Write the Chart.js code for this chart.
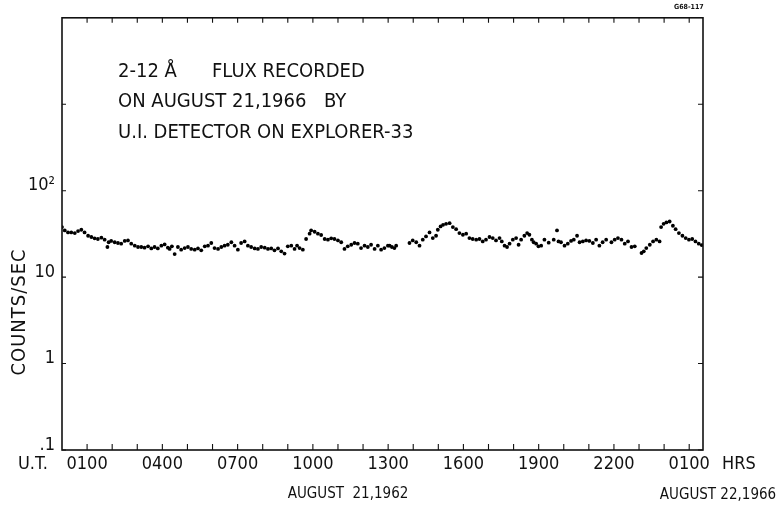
<!DOCTYPE html>
<html><head><meta charset="utf-8">
<script src="https://cdn.jsdelivr.net/npm/chart.js@4"></script>
<style>
html,body{margin:0;padding:0;background:#fff;}
#wrap{position:relative;width:780px;height:508px;overflow:hidden;}
canvas{position:absolute;left:0;top:0;}
.t{position:absolute;font-family:"DejaVu Sans Condensed","DejaVu Sans",sans-serif;font-stretch:condensed;color:#111;white-space:nowrap;line-height:1;}
.a{font-size:20px;}
</style></head><body>
<div id="wrap">
<canvas id="c" width="780" height="508"></canvas>
<div class="t" style="left:674px;top:4px;font-size:7px;font-weight:bold;">G68-117</div>
<div class="t a" style="left:118px;top:60px;">2-12 Å</div>
<div class="t a" style="left:212px;top:60px;">FLUX RECORDED</div>
<div class="t a" style="left:118px;top:90px;">ON AUGUST 21,1966</div>
<div class="t a" style="left:324px;top:90px;">BY</div>
<div class="t a" style="left:118px;top:121px;">U.I. DETECTOR ON EXPLORER-33</div>
<div class="t" style="left:18px;top:312px;font-size:20px;letter-spacing:1px;transform:translate(-50%,-50%) rotate(-90deg);">COUNTS/SEC</div>
<div class="t" style="left:18px;top:454px;font-size:18px;">U.T.</div>
<div class="t" style="left:722px;top:454px;font-size:18px;">HRS</div>
<div class="t" style="left:348px;top:486px;font-size:15px;transform:translateX(-50%);">AUGUST&nbsp;&nbsp;21,1962</div>
<div class="t" style="left:718px;top:487px;font-size:15px;transform:translateX(-50%);">AUGUST 22,1966</div>
</div>
<script>
// Hours after 0000 UT, August 21
const hours = [
0.00,0.11,0.24,0.37,0.51,0.64,0.77,0.90,1.04,1.17,1.30,1.43,1.57,1.70,1.81,1.86,1.96,2.10,2.23,2.36,2.50,2.63,2.76,2.90,3.03,3.16,3.29,3.43,3.56,3.69,3.82,3.96,4.09,4.22,
4.29,4.38,4.49,4.62,4.75,4.89,5.02,5.15,5.29,5.42,5.55,5.69,5.82,5.95,6.08,6.22,6.35,6.48,6.61,6.75,6.88,7.01,7.14,7.28,7.41,7.54,7.68,7.81,7.94,8.08,8.21,8.34,8.47,8.61,
8.74,8.87,9.00,9.14,9.27,9.37,9.47,9.60,9.73,9.87,9.93,10.07,10.20,10.33,10.47,10.60,10.73,10.86,11.00,11.13,11.26,11.39,11.53,11.66,11.79,11.92,12.06,12.19,12.32,12.46,12.59,12.72,12.85,12.99,
13.06,13.15,13.25,13.32,
13.85,13.98,14.12,14.25,14.38,14.51,14.65,14.78,14.91,14.98,15.09,15.19,15.31,15.45,15.58,15.71,15.84,15.98,16.11,16.24,16.37,16.51,16.64,16.77,16.90,17.04,17.17,17.30,
17.44,17.53,17.64,17.74,17.84,17.97,18.10,18.20,18.30,18.43,18.54,18.63,18.73,18.80,18.90,18.99,19.10,19.23,19.40,
19.60,19.73,19.79,19.89,20.03,20.16,20.29,20.40,20.53,20.63,20.76,20.89,21.02,21.16,21.29,21.42,21.55,21.69,
21.90,22.03,22.16,22.30,22.43,22.56,22.70,22.83,
23.10,23.19,23.29,23.43,23.56,23.69,23.82,23.88,23.98,24.09,24.22,24.35,24.46,24.59,24.73,24.86,24.99,25.12,25.25,25.38,25.50
];
// 2-12 A flux, counts/sec
const counts = [
37.9,34.7,32.9,32.9,32.3,34.1,35.3,32.9,30.1,29.1,28.1,27.6,28.6,27.1,22.3,25.3,26.2,25.3,24.8,24.4,26.2,26.6,24.4,23.1,22.3,22.3,21.9,22.7,21.5,22.3,21.5,23.1,23.9,21.9,
21.2,22.7,18.5,22.3,20.8,21.7,22.3,21.2,20.8,21.5,20.4,22.7,23.1,24.8,21.7,21.2,22.3,23.1,23.7,25.3,23.1,20.8,24.8,25.9,23.1,22.3,21.5,21.2,22.3,21.9,21.2,21.5,20.4,21.5,
19.9,18.7,22.7,23.1,21.2,23.1,21.7,20.8,27.6,31.8,34.7,33.5,31.8,30.7,27.6,27.1,28.1,27.6,26.6,25.3,21.2,22.7,23.7,24.8,24.4,21.7,23.1,22.3,23.7,21.2,23.1,20.8,21.7,23.1,
23.1,22.3,21.7,23.1,
24.8,26.6,25.3,23.1,27.1,29.6,32.9,28.3,30.1,35.3,38.6,40.3,41.4,42.1,37.9,35.9,32.3,30.9,31.8,28.3,27.6,27.1,27.6,25.9,27.1,29.1,28.3,26.6,
28.3,25.9,23.1,22.3,24.4,27.1,28.3,23.7,27.1,30.1,32.3,30.9,27.1,25.3,24.4,22.7,23.1,27.1,25.0,
27.1,34.7,25.9,25.3,23.1,24.4,26.2,27.1,30.1,25.3,25.9,26.6,26.2,24.8,27.1,23.1,25.3,27.1,
25.3,27.1,28.3,27.1,24.4,25.9,22.3,22.7,
19.0,19.9,21.7,23.7,25.9,27.1,25.9,37.9,41.4,42.9,44.0,39.3,35.9,32.3,30.1,28.3,27.1,27.6,25.9,24.4,23.5
];
const xTickHours = [1,2,3,4,5,6,7,8,9,10,11,12,13,14,15,16,17,18,19,20,21,22,23,24,25];
const xLabelHours = [1,4,7,10,13,16,19,22,25];
const xLabels = ['0100','0400','0700','1000','1300','1600','1900','2200','0100'];
const yTickValues = [0.1,1,10,100,1000,10000];
const yTickLabels = ['.1','1','10','10\u00B2','',''];

const FONT = "'DejaVu Sans Condensed','DejaVu Sans',sans-serif";

const framePlugin = {
  id:'frame',
  afterDraw(chart){
    const {ctx, chartArea:a, scales} = chart;
    ctx.save();
    ctx.strokeStyle = '#111';
    ctx.lineWidth = 1.6;
    ctx.strokeRect(a.left, a.top, a.right-a.left, a.bottom-a.top);
    ctx.lineWidth = 1.1;
    ctx.beginPath();
    xTickHours.forEach(h=>{
      const px = scales.x.getPixelForValue(h);
      ctx.moveTo(px, a.bottom); ctx.lineTo(px, a.bottom-6);
      ctx.moveTo(px, a.top); ctx.lineTo(px, a.top+5);
    });
    yTickValues.slice(0,5).forEach(v=>{
      const py = scales.y.getPixelForValue(v);
      ctx.moveTo(a.left, py); ctx.lineTo(a.left+4, py);
      ctx.moveTo(a.right, py); ctx.lineTo(a.right-5, py);
    });
    ctx.stroke();
    ctx.restore();
  }
};

new Chart(document.getElementById('c'), {
  type:'scatter',
  data:{datasets:[{
    data: hours.map((h,i)=>({x:h, y:counts[i]})),
    backgroundColor:'#000', borderWidth:0, pointRadius:1.9, pointHoverRadius:1.9, showLine:false
  }]},
  options:{
    responsive:false, animation:false, devicePixelRatio:1,
    layout:{padding:{left:0, right:77, top:15, bottom:0}},
    plugins:{legend:{display:false}, tooltip:{enabled:false}},
    scales:{
      x:{type:'linear', min:0, max:25.55,
        grid:{display:false, drawTicks:false}, border:{display:false},
        afterBuildTicks:s=>{ s.ticks = xTickHours.map(v=>({value:v})); },
        afterFit:s=>{ s.height = 58; },
        ticks:{autoSkip:false, maxRotation:0, minRotation:0, padding:4, color:'#111',
          font:{family:FONT, size:18},
          callback:v=>{ const i = xLabelHours.indexOf(v); return i>=0 ? xLabels[i] : ''; }}
      },
      y:{type:'logarithmic', min:0.1, max:10000,
        grid:{display:false, drawTicks:false}, border:{display:false},
        afterBuildTicks:s=>{ s.ticks = yTickValues.map(v=>({value:v})); },
        afterFit:s=>{ s.width = 62; },
        ticks:{autoSkip:false, padding:7, labelOffset:-5, color:'#111', font:{family:FONT, size:18},
          callback:v=>{ const i = yTickValues.indexOf(v); return i>=0 ? yTickLabels[i] : ''; }}
      }
    }
  },
  plugins:[framePlugin]
});
</script>
</body></html>
